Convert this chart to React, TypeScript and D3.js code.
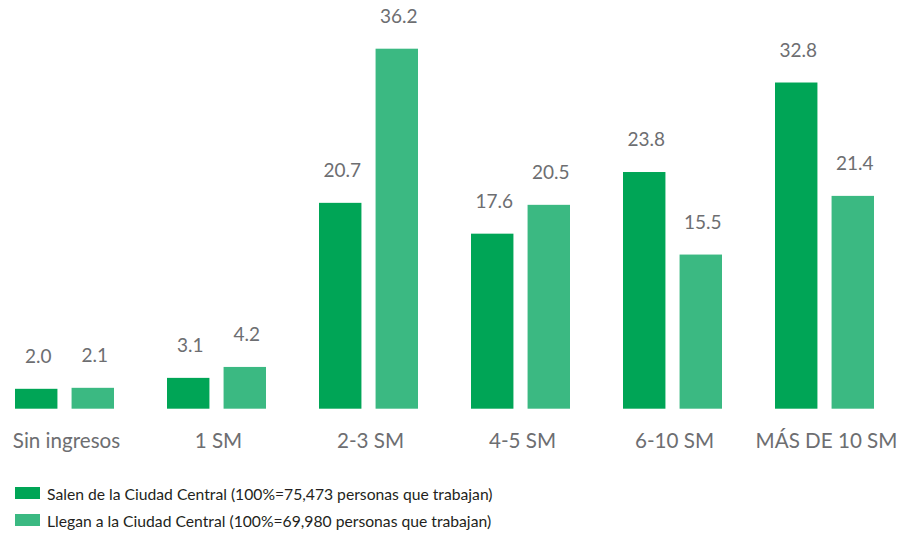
import React from "react";
import * as d3 from "d3";

const categories = ["Sin ingresos", "1 SM", "2-3 SM", "4-5 SM", "6-10 SM", "MÁS DE 10 SM"];
const salen = [2.0, 3.1, 20.7, 17.6, 23.8, 32.8];
const llegan = [2.1, 4.2, 36.2, 20.5, 15.5, 21.4];
const seriesNames = [
  "Salen de la Ciudad Central (100%=75,473 personas que trabajan)",
  "Llegan a la Ciudad Central (100%=69,980 personas que trabajan)",
];
const colors = ["#00a556", "#3bb982"];

const W = 900;
const H = 533;
const FONT = "Lato, 'Open Sans', sans-serif";
const TEXT = "#6d6e71";

export default function App() {
  const groupW = 99;
  const x0 = d3
    .scalePoint<string>()
    .domain(categories)
    .range([15, 874 - groupW]);
  const x1 = d3.scaleBand<number>().domain([0, 1]).range([0, groupW]).paddingInner(0.25);
  const y = d3.scaleLinear().domain([0, 36.2]).range([408.7, 48.7]);
  const series = [salen, llegan];

  return (
    <svg width={W} height={H} style={{ position: "absolute", left: 0, top: 0 }} fontFamily={FONT}>
      <rect width={W} height={H} fill="#fff" />
      {categories.map((c, i) => (
        <g key={c} transform={`translate(${x0(c)},0)`}>
          {series.map((s, k) => {
            const bx = x1(k)!;
            const bw = x1.bandwidth();
            return (
              <g key={k}>
                <rect x={bx} y={y(s[i])} width={bw} height={y(0) - y(s[i])} fill={colors[k]} />
                <text x={bx + bw / 2 + 2} y={y(s[i]) - 26} textAnchor="middle" fontSize={19} fill={TEXT}>
                  {s[i].toFixed(1)}
                </text>
              </g>
            );
          })}
          <text x={groupW / 2 + 2} y={448} textAnchor="middle" fontSize={20.6} fill={TEXT}>
            {c}
          </text>
        </g>
      ))}
      {seriesNames.map((n, k) => (
        <g key={n} transform={`translate(15,${487 + k * 27})`}>
          <rect x={0} y={0} width={25} height={12} fill={colors[k]} />
          <text x={32} y={12.5} fontSize={15.7} fill="#231f20">
            {n}
          </text>
        </g>
      ))}
    </svg>
  );
}
